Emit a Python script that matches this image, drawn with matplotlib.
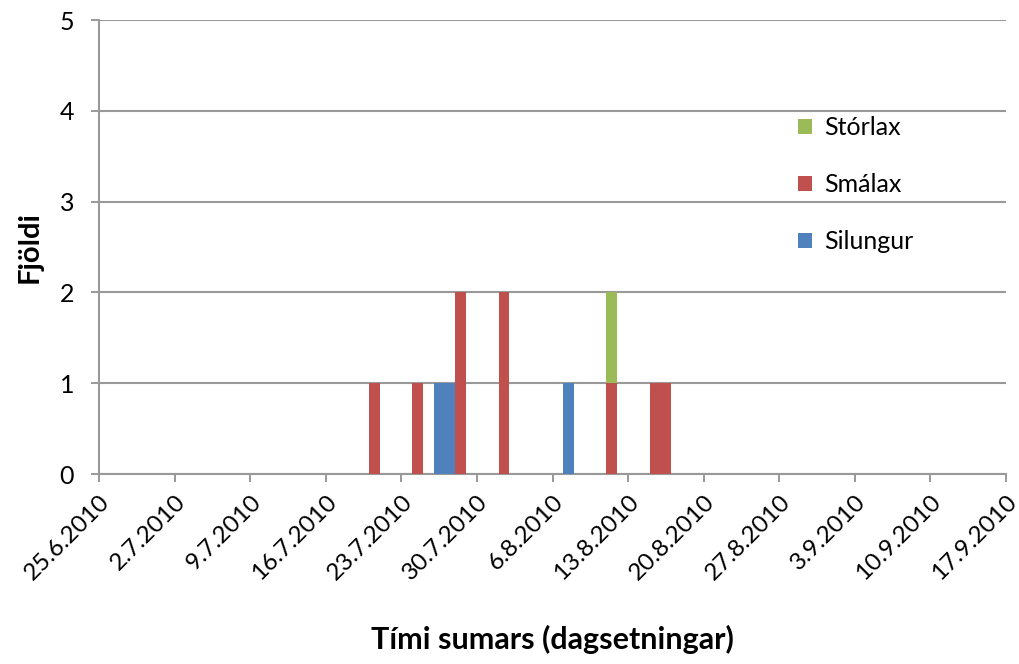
import datetime as dt
import numpy as np
import matplotlib
matplotlib.use("Agg")
import matplotlib.pyplot as plt
import matplotlib.dates as mdates

plt.rcParams['font.family'] = ['Lato', 'DejaVu Sans']

# daily catch, one entry per day that had fish
days = ["20.7", "24.7", "26.7", "27.7", "28.7", "1.8", "7.8", "11.8", "15.8", "16.8"]
silungur = [0, 0, 1, 1, 0, 0, 1, 0, 0, 0]
smalax = [1, 1, 0, 0, 2, 2, 0, 1, 1, 1]
storlax = [0, 0, 0, 0, 0, 0, 0, 1, 0, 0]

tick_start = "25.6"
tick_end = "17.9"


def to_date(s):
    d, m = s.split(".")
    return dt.date(2010, int(m), int(d))


x = mdates.date2num([to_date(s) for s in days])
silungur = np.array(silungur)
smalax = np.array(smalax)
storlax = np.array(storlax)

fig = plt.figure(figsize=(10.19, 6.64), dpi=100)
ax = fig.add_axes([0.0972, 0.2861, 0.8900, 0.6837])

blue, red, green = "#4f81bd", "#c0504d", "#9bbb59"
ax.bar(x, silungur, width=1, align="edge", color=blue, label="Silungur", zorder=3)
ax.bar(x, smalax, width=1, align="edge", bottom=silungur, color=red, label="Smálax", zorder=3)
ax.bar(x, storlax, width=1, align="edge", bottom=silungur + smalax, color=green,
       label="Stórlax", zorder=3)

start = mdates.date2num(to_date(tick_start))
end = mdates.date2num(to_date(tick_end))
ticks = np.arange(start, end + 1, 7)
ax.set_xlim(start, end)
ax.set_xticks(ticks)
ax.set_xticklabels([mdates.num2date(t).strftime("%-d.%-m.%Y") for t in ticks],
                   rotation=45, ha="right", rotation_mode="anchor", fontsize=17.5)
ax.set_ylim(0, 5)
ax.set_yticks(range(6))
ax.tick_params(axis="y", labelsize=18, length=6, color="#888888", width=1.2, pad=12)
ax.tick_params(axis="x", length=6, color="#888888", width=1.2, pad=6)

ax.grid(axis="y", color="#999999", linewidth=1.5, zorder=0)
for side in ["top", "right"]:
    ax.spines[side].set_visible(False)
for side in ["left", "bottom"]:
    ax.spines[side].set_color("#999999")
    ax.spines[side].set_linewidth(1.5)

ax.set_ylabel("Fjöldi", fontsize=21, fontweight="bold", labelpad=12)
ax.set_xlabel("Tími sumars (dagsetningar)", fontsize=22, fontweight="bold", labelpad=30)

handles, labels = ax.get_legend_handles_labels()
ax.legend(handles[::-1], labels[::-1], loc="upper left", bbox_to_anchor=(0.746, 0.838),
          frameon=False, fontsize=18, handlelength=0.55, handleheight=0.55,
          handletextpad=0.5, labelspacing=1.36)

fig.savefig("out.png", dpi=100)
